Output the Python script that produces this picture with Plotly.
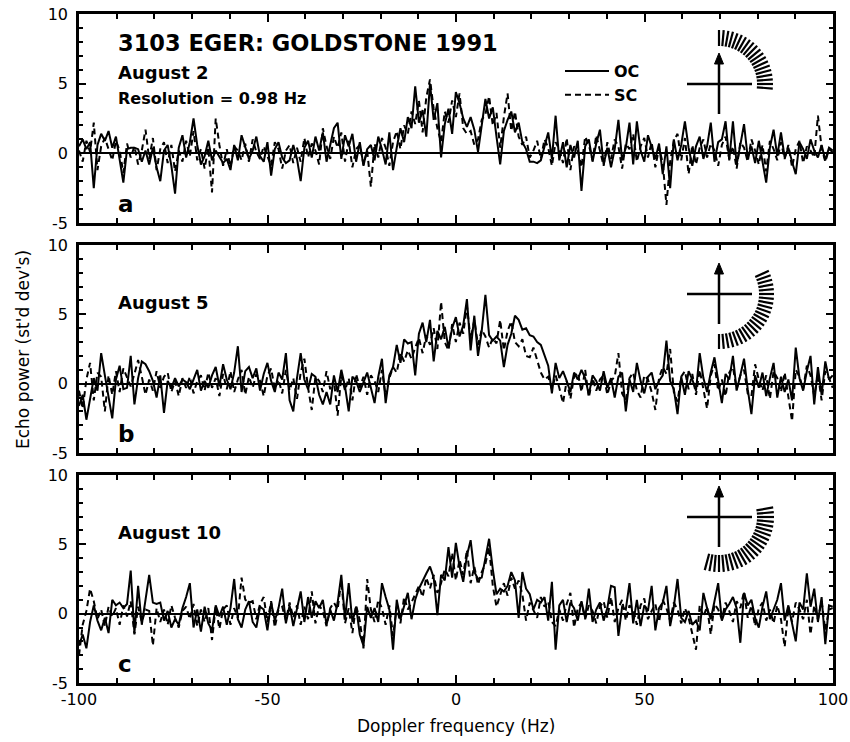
import math
import plotly.graph_objects as go

# ---------------- data ----------------
resolution_hz = 0.98
n_bins = 205
freq_hz = [round(-100 + resolution_hz * i, 2) for i in range(n_bins)]

aug2_oc = [
    0.5, 1.0, 0.3, 0.8, -2.5, 0.6, 1.4, 0.9, 1.6, 0.4,
    1.2, -0.4, -2.1, 0.3, 0.4, 0.4, 0.3, -0.6, 0.2, -0.8,
    0.4, -1.0, -2.0, 0.2, 0.6, -0.9, -2.9, 0.4, 1.3, -0.3,
    0.8, 2.5, 0.6, -0.8, -0.2, 0.9, -0.5, 0.2, -0.3, -0.7,
    -0.4, -1.2, 0.6, -0.5, 1.3, 0.4, -0.4, 0.2, 1.2, -0.2,
    -0.6, 0.8, -1.6, 0.3, 0.8, -0.3, -0.7, -0.5, 0.6, -0.4,
    -2.0, 0.4, 0.9, -0.3, 1.2, 0.2, 1.5, -0.6, 0.7, 1.8,
    2.2, -0.4, 1.3, 0.5, 1.4, -0.6, 0.8, -0.9, 0.3, 0.6,
    -0.5, 1.2, 0.3, -0.8, 1.5, -1.2, 0.4, 1.8, 0.8, 2.6,
    1.8, 4.8, 2.2, 3.1, 1.2, 5.0, 2.4, 3.6, -0.3, 2.1,
    3.2, 1.4, 4.4, 3.6, 2.5, 1.9, 2.6, 1.7, 0.1, 2.0,
    3.9, 2.5, 3.3, 1.2, -0.8, 1.6, 2.4, 3.0, 1.5, 2.2,
    0.8, 0.3, -0.6, -0.6, -0.7, -0.5, 0.5, 1.5, -0.4, 2.7,
    -0.5, 0.8, -1.0, 0.6, -0.3, 0.9, -2.7, 0.5, 1.0, -0.6,
    0.7, 1.7, -0.8, 0.4, -1.0, 0.3, 2.4, -0.5, 0.4, 2.2,
    -0.8, 2.3, 0.2, -0.6, 1.3, 0.4, -0.4, 0.7, -1.5, 0.5,
    -2.5, 1.0, -0.5, 0.6, 2.3, 0.4, -0.9, 0.5, 1.2, -0.4,
    0.5, 2.2, -0.6, 0.8, 1.0, 2.3, -0.5, 2.3, -0.8, 0.6,
    2.1, -0.3, 0.5, -0.7, 0.9, -0.6, -2.1, 0.4, 1.7, -0.2,
    1.5, -0.3, 0.4, -0.6, -1.5, 0.8, 0.3, -0.4, 1.0, 0.2,
    -0.3, 0.6, -0.5, 0.4, 0.2,
]
aug2_sc = [
    0.2, -0.6, 0.9, 0.1, 2.2, -1.2, 0.5, 1.1, 0.3, -0.5,
    0.9, 0.2, -1.4, 0.7, -0.3, 0.5, -0.8, 0.2, 1.7, -0.4,
    1.1, -1.2, 0.3, 0.8, -0.7, 0.6, -1.3, 0.2, -0.6, 0.9,
    -0.2, 1.6, -0.5, 0.3, -1.1, 0.4, -2.8, 2.5, 0.6, -0.9,
    0.3, -1.0, 0.5, 0.2, -0.5, 0.7, -0.6, 1.0, 0.1, -0.4,
    0.5, -0.2, -0.9, 0.8, 0.3, -1.1, 0.2, 0.6, -0.7, 0.4,
    -0.6, 1.1, -0.3, 0.7, 0.2, -0.8, 1.8, 0.5, -0.4, 1.2,
    0.4, 1.5, -0.6, 0.9, -1.0, 0.3, 0.6, -0.8, 0.2, -2.4,
    0.7, -0.3, 1.1, 0.4, -0.9, 0.8, 1.6, 0.3, 2.0, 1.4,
    3.0, 2.1, 3.8, 1.5, 4.0, 5.3, 3.2, 1.8, 0.8, 3.0,
    2.2, 3.8, 2.6, 4.3, 1.8, 1.4, 1.6, 0.6, 1.0, 2.4,
    2.8, 4.1, 2.0, 2.9, 0.4, 2.6, 4.3, 1.6, 3.0, 1.2,
    0.6, 1.2, -0.3, 0.2, 0.9, -0.4, 1.0, 0.4, -0.9, 0.8,
    0.3, -0.7, 1.1, -1.2, 0.5, 0.2, -1.0, 1.2, 0.6, -0.5,
    1.3, 0.2, -0.9, 0.8, -0.4, 1.0, 0.5, -1.1, 0.7, 0.3,
    1.4, -0.6, 0.5, 1.1, -0.3, 0.8, -1.0, 0.4, -0.7, -3.7,
    -0.6, 0.9, 1.4, -0.5, 1.1, -1.5, 0.6, -0.8, 0.4, 1.0,
    -0.3, 0.7, 0.2, -0.9, 0.6, 1.2, -0.4, 0.5, -1.1, 0.8,
    0.4, -0.6, 1.0, 0.2, -0.8, 0.6, -1.3, 0.9, 0.3, -0.5,
    0.8, -0.4, 0.6, -1.0, 0.3, 0.9, -0.7, 0.5, 0.2, -0.3,
    2.7, 0.4, -0.6, 0.3, 0.1,
]
aug5_oc = [
    -1.6, -0.8, -2.6, -1.2, 0.4, -0.5, 2.2, 0.6, -1.0, -2.5,
    0.3, 1.3, -0.4, -0.3, 2.0, -1.5, 0.4, 1.6, 1.4, 0.9,
    0.2, -1.0, 0.6, -2.1, 0.2, -0.3, 0.4, -0.2, 0.3, 0.1,
    -0.4, 0.3, 1.0, -0.5, 0.2, -0.3, 0.6, 1.2, -0.2, 1.4,
    0.3, -0.4, 0.8, 2.7, -0.6, 0.9, 1.2, 0.4, 1.1, -0.5,
    0.7, 1.5, 0.2, -0.6, 0.8, 0.3, 2.2, -1.2, -2.0, 0.4,
    2.2, 0.3, -0.4, 0.7, 0.5, -0.8, -1.5, -0.6, -1.5, 0.6,
    -0.6, 1.0, -0.2, -2.0, 0.5, 0.2, -0.6, 0.1, 0.8, -0.3,
    -1.4, 0.5, 1.8, -1.4, 0.6, 1.2, 2.8, 1.5, 3.2, 2.9,
    3.0, 0.6, 3.6, 4.4, 3.0, 4.6, 1.6, 3.8, 3.2, 4.1,
    2.6, 4.0, 4.8, 3.4, 4.2, 6.1, 2.4, 4.9, 2.0, 3.8,
    6.4, 3.5, 3.1, 3.4, 3.1, 1.2, 2.8, 3.6, 4.9, 4.6,
    3.9, 4.0, 3.5, 3.4, 3.0, 2.8, 2.0, 1.3, -0.7, 1.5,
    0.4, 0.9, 0.2, -0.6, 0.8, 0.3, 1.0, 0.4, -0.8, 0.6,
    0.2, -0.5, 0.9, -0.3, 0.4, -1.0, 0.5, 0.8, -2.0, 0.3,
    -0.6, 1.5, 0.2, -0.7, 0.5, 0.8, -0.4, 0.2, 0.6, 3.1,
    0.2, -0.4, -2.2, 0.5, -0.8, 0.9, 0.3, -0.5, 2.2, 0.4,
    -0.6, 0.8, 1.9, 0.2, -1.4, 0.7, 0.3, 2.0, -0.5, 0.6,
    1.8, -0.4, -2.2, 0.6, -0.3, 0.8, -0.9, 0.4, 1.5, -1.0,
    0.5, -0.6, 0.3, -1.2, 2.6, 0.4, -0.5, 0.9, 2.0, -1.5,
    1.2, -0.8, 1.6, 0.3, 0.6,
]
aug5_sc = [
    -0.5, -1.8, 0.3, 1.5, -1.2, 0.8, 0.5, -2.0, 0.6, -0.8,
    0.9, -0.6, 1.1, 0.4, -0.2, 0.7, 1.7, 0.5, -0.8, 0.3,
    -0.5, 0.9, -0.3, 0.5, 0.8, -0.6, 0.2, -0.9, 0.4, -0.3,
    0.5, -0.7, 0.2, 0.6, -0.5, 0.8, -0.3, 0.4, -0.9, 0.7,
    -0.4, 0.9, -0.6, 0.3, 1.0, -0.8, 0.5, -0.3, 0.7, 0.2,
    -0.9, 0.6, 1.1, -0.4, 0.3, -0.7, 1.0, -0.5, 0.4, -1.1,
    0.8, 1.8, -0.3, -1.9, 0.5, 0.2, -0.6, 0.9, -0.4, 0.3,
    -2.3, 0.6, -0.5, 0.4, -1.2, 0.7, -0.3, 0.5, -0.8, 0.6,
    0.2, -0.6, 1.0, -0.9, 0.4, 1.2, 0.8, 2.2, 1.6, 2.4,
    1.8, 2.6, 3.3, 2.2, 3.5, 2.8, 4.0, 2.5, 5.9, 3.0,
    2.4, 4.3, 3.0, 4.4, 3.6, 5.6, 3.2, 4.6, 2.8, 3.9,
    3.4, 2.6, 3.3, 2.9, 4.6, 2.4, 3.8, 4.5, 3.0, 2.7,
    3.2, 2.0, 1.9, 2.6, 1.6, 0.8, 0.3, 0.5, -0.4, 0.6,
    -0.3, -1.4, 0.2, -1.1, 0.5, 0.8, -0.6, 1.0, -1.0, 0.4,
    -0.5, 0.3, 0.6, -0.8, 0.2, 0.5, 2.2, -0.7, -1.2, 0.4,
    0.8, -0.5, -1.0, 0.6, 0.3, -0.6, -1.9, 0.4, 1.2, 0.7,
    2.5, -0.6, -1.3, 0.5, 0.9, -0.4, 0.7, -0.8, 1.0, -0.3,
    -1.8, 0.6, 1.4, -0.5, 0.3, -0.9, 0.8, 1.2, -0.4, 0.6,
    1.0, -0.7, -0.9, 1.4, 0.3, -0.5, 0.6, -1.1, 0.9, 0.4,
    -0.6, 0.8, -0.8, -2.7, 1.0, 0.5, -0.4, 1.3, 0.6, -0.9,
    0.7, -1.2, 0.9, 0.4, -0.3,
]
aug10_oc = [
    -2.3, -1.5, -2.5, -0.6, 0.6, -0.5, -1.2, -0.3, -1.4, 1.0,
    0.6, 0.8, 0.4, 0.7, 3.1, -1.4, 2.0, -0.8, 1.0, 2.8,
    0.8, 0.7, 0.8, -0.5, 0.2, -1.0, -0.4, -0.8, 0.4, 1.2,
    2.2, -1.0, 0.3, -1.3, 0.5, -0.7, -1.2, 0.6, -0.2, 0.5,
    -0.8, 0.4, 2.5, -0.4, -1.0, 0.3, 0.9, -0.6, -1.0, 0.5,
    0.3, -1.2, 0.8, -0.5, 0.4, 1.8, -0.7, 0.6, -0.9, 0.3,
    1.6, -0.6, 1.2, -0.3, 0.9, 0.4, 1.0, -0.8, 0.3, -0.5,
    0.8, 2.8, -0.4, 2.2, -0.6, 0.5, -1.5, -2.3, 0.5, -0.3,
    0.4, -0.6, 2.2, 1.2, 0.3, -2.6, 1.0, -0.4, 0.6, 1.5,
    -0.4, 1.0, 1.8, 2.4, 2.9, 3.4, 2.6, -0.1, 2.8, 2.4,
    4.8, 2.6, 5.1, 3.4, 2.3, 4.2, 5.3, 3.0, 2.5, 2.6,
    4.0, 5.4, 3.2, 1.4, 1.8, 1.6, 2.0, 3.0, 2.4, -0.3,
    3.0, 1.8, 1.4, 0.3, 1.0, 0.8, 1.2, -0.5, 2.3, -2.6,
    0.6, 1.0, -0.6, 0.8, 0.4, -0.5, 0.9, -0.3, 1.8, -0.6,
    0.3, 0.8, -0.5, 0.4, 2.0, 1.9, -1.6, 0.5, 0.3, 2.2,
    -0.7, 1.0, -0.9, 0.6, 0.2, 2.0, -1.2, 0.4, 0.8, 2.0,
    -0.9, 0.5, 2.5, -0.3, -0.6, 0.2, -0.8, -0.5, -1.2, 1.5,
    0.4, -0.4, 0.9, 2.2, -0.5, 0.3, 0.7, 1.2, 0.4, -2.1,
    1.5, 0.6, 1.0, -0.3, -1.0, 0.5, 1.6, -0.4, 0.3, 1.0,
    2.2, -0.5, 0.6, -0.8, -2.0, 0.8, 0.3, 2.9, 0.5, 1.8,
    -0.6, 1.2, -2.2, 0.6, 0.5,
]
aug10_sc = [
    -3.0, -0.8, 0.2, 1.8, 0.9, -0.4, 0.3, -0.9, 0.5, -0.2,
    0.4, -0.8, 0.6, -0.2, 0.9, -1.5, 0.5, -0.6, 0.3, 0.2,
    -2.3, 0.4, -0.6, 0.3, -0.8, 0.6, -0.3, -1.0, 0.2, 0.5,
    -0.4, 0.7, -0.9, 0.3, -0.6, 0.4, -1.9, 0.5, -1.1, 0.3,
    0.6, -0.8, 0.4, -0.3, 2.6, 1.0, 0.8, 0.9, -0.4, 0.7,
    1.2, -0.6, 0.9, -1.0, 0.3, 0.5, -0.5, 0.8, -0.3, 0.6,
    -0.8, 0.5, -0.4, 1.6, -0.7, 0.6, 0.2, -0.9, 0.4, 0.8,
    0.3, 2.4, -0.7, 0.4, -1.4, 0.6, -0.5, -2.5, 2.5, 0.3,
    -0.6, 1.0, 0.4, -0.8, 0.6, -1.6, 0.5, -0.7, 1.2, 0.3,
    0.8, 1.4, 2.0, 1.2, 2.6, 1.8, 2.8, 1.5, 2.2, 3.2,
    2.7, 4.4, 2.4, 3.9, 2.8, 4.6, 2.2, 3.4, 2.1, 3.0,
    3.6, 4.8, 2.0, 0.5, 1.4, 2.2, 1.3, 2.6, 1.8, 2.4,
    1.4, -0.5, 0.8, 0.2, -0.3, 1.2, 0.5, 0.9, -0.6, -0.9,
    0.3, -0.5, 0.7, 1.5, -1.0, 0.4, 0.8, -0.4, 0.6, 0.2,
    -0.7, 0.5, 0.9, -0.3, 1.2, -0.6, 0.4, 1.0, -0.5, 0.6,
    0.3, -0.8, 0.6, 1.1, -0.4, 0.2, 0.7, -0.6, 1.0, 0.4,
    -0.5, 0.8, 0.3, -0.7, 0.4, -0.3, -1.5, -2.6, 0.6, -0.2,
    0.5, -1.5, 0.7, 0.3, -0.4, 0.8, 0.2, -0.6, 0.9, 0.4,
    1.6, -0.3, 0.6, -0.9, 0.4, 0.8, -0.5, 0.3, -0.7, 0.6,
    -0.4, -2.4, 0.5, -0.6, 0.8, 0.3, -0.4, 1.0, -1.5, 0.6,
    -0.4, 0.9, -1.2, 0.3, 0.4,
]

panel_dates = ["August 2", "August 5", "August 10"]
panel_letters = ["a", "b", "c"]
x_tick_vals = [-100, -50, 0, 50, 100]
x_tick_text = ["-100", "-50", "0", "50", "100"]
y_tick_vals = [-5, 0, 5, 10]
y_tick_text = ["-5", "0", "5", "10"]

for arr in (aug2_oc, aug2_sc, aug5_oc, aug5_sc, aug10_oc, aug10_sc):
    assert len(arr) == n_bins, len(arr)

# ---------------- layout geometry ----------------
W, H = 850, 742
ML, MR, MT, MB = 79, 17, 14, 59
PW = W - ML - MR
PH = H - MT - MB
BOTTOM_PX = H - MB


def fx(px):
    return (px - ML) / PW


def fy(py):
    return (BOTTOM_PX - py) / PH


panel_px = [(14, 223), (245, 453), (475, 683)]
domains = [[fy(b), fy(t)] for (t, b) in panel_px]

FONT = "DejaVu Sans"
fig = go.Figure()

series = [(aug2_oc, aug2_sc), (aug5_oc, aug5_sc), (aug10_oc, aug10_sc)]
for k, (oc, sc) in enumerate(series):
    xa = "x" if k == 0 else f"x{k+1}"
    ya = "y" if k == 0 else f"y{k+1}"
    fig.add_trace(go.Scatter(
        x=freq_hz, y=sc, mode="lines", name="<b>SC</b>", xaxis=xa, yaxis=ya,
        line=dict(color="black", width=2.0, dash="6px,4px"),
        showlegend=(k == 0), legendrank=2, hoverinfo="skip"))
    fig.add_trace(go.Scatter(
        x=freq_hz, y=oc, mode="lines", name="<b>OC</b>", xaxis=xa, yaxis=ya,
        line=dict(color="black", width=2.0),
        showlegend=(k == 0), legendrank=1, hoverinfo="skip"))

layout = dict(
    width=W, height=H, autosize=False,
    margin=dict(l=ML, r=MR, t=MT, b=MB, autoexpand=False),
    paper_bgcolor="white", plot_bgcolor="white",
    font=dict(family=FONT, size=16, color="black"),
    legend=dict(x=fx(560), y=fy(54), xanchor="left", yanchor="top",
                bgcolor="rgba(0,0,0,0)", font=dict(family=FONT, size=16, color="black"),
                tracegroupgap=0, itemwidth=44),
)
for k in range(3):
    xs = "xaxis" if k == 0 else f"xaxis{k+1}"
    ys = "yaxis" if k == 0 else f"yaxis{k+1}"
    ya = "y" if k == 0 else f"y{k+1}"
    xa = "x" if k == 0 else f"x{k+1}"
    layout[xs] = dict(
        domain=[0, 1], anchor=ya, range=[-100, 100], automargin=False,
        tickmode="array", tickvals=x_tick_vals, ticktext=x_tick_text,
        showticklabels=(k == 2),
        ticks="inside", ticklen=8, tickwidth=1.5, tickcolor="black",
        minor=dict(dtick=10, tick0=0, ticks="inside", ticklen=5, tickwidth=1.5, tickcolor="black"),
        showline=True, linewidth=2.5, linecolor="black", mirror="ticks",
        showgrid=False, zeroline=False, fixedrange=True,
        tickfont=dict(family=FONT, size=16, color="black"),
    )
    layout[ys] = dict(
        domain=domains[k], anchor=xa, range=[-5, 10], automargin=False,
        tickmode="array", tickvals=y_tick_vals, ticktext=y_tick_text,
        ticks="inside", ticklen=7, tickwidth=1.5, tickcolor="black",
        ticklabelstandoff=5,
        minor=dict(dtick=1, tick0=0, ticks="inside", ticklen=4, tickwidth=1.5, tickcolor="black"),
        showline=True, linewidth=2.5, linecolor="black", mirror="ticks",
        showgrid=False, zeroline=True, zerolinecolor="black", zerolinewidth=2,
        fixedrange=True, tickfont=dict(family=FONT, size=16, color="black"),
    )
fig.update_layout(**layout)

# ---------------- text ----------------
ann = []


def add_text(txt, px, py, size, bold=True, xanchor="left", angle=0):
    ann.append(dict(
        text=(f"<b>{txt}</b>" if bold else txt), x=fx(px), y=fy(py),
        xref="paper", yref="paper", xanchor=xanchor, yanchor="middle",
        showarrow=False, textangle=angle, borderpad=0,
        font=dict(family=FONT, size=size, color="black")))


add_text("3103 EGER: GOLDSTONE 1991", 117, 43, 22.5)
add_text(panel_dates[0], 117, 72, 18)
add_text("Resolution = 0.98 Hz", 117, 98, 16)
add_text(panel_dates[1], 117, 302, 18)
add_text(panel_dates[2], 117, 532, 18)
for letter, ypx in zip(panel_letters, [204, 434, 664]):
    add_text(letter, 117, ypx, 23)
add_text("Doppler frequency (Hz)", 456, 726, 17, bold=False, xanchor="center")
add_text("Echo power (st'd dev's)", 23, 350, 17, bold=False, xanchor="center", angle=-90)
fig.update_layout(annotations=ann)

# ---------------- polarization icons ----------------
shapes = []


def seg(x0, y0, x1, y1, w):
    shapes.append(dict(type="line", xref="paper", yref="paper",
                       x0=fx(x0), y0=fy(y0), x1=fx(x1), y1=fy(y1),
                       line=dict(color="black", width=w)))


def icon(cx, cy, a_start, a_end, r1, r2):
    seg(cx - 32, cy, cx + 33, cy, 2.5)
    seg(cx, cy + 30, cx, cy - 24, 2.5)
    tip = cy - 31
    path = (f"M {fx(cx)},{fy(tip)} L {fx(cx - 4.5)},{fy(tip + 11)} "
            f"L {fx(cx + 4.5)},{fy(tip + 11)} Z")
    shapes.append(dict(type="path", xref="paper", yref="paper", path=path,
                       fillcolor="black", line=dict(color="black", width=1)))
    n = int(round(abs(a_end - a_start) / 5.0)) + 1
    for j in range(n):
        a = math.radians(a_start + (a_end - a_start) * j / (n - 1))
        seg(cx + r1 * math.cos(a), cy - r1 * math.sin(a),
            cx + r2 * math.cos(a), cy - r2 * math.sin(a), 2.2)


icon(719, 84, 90, -5, 38, 54)
icon(719, 294, 25, -90, 40, 55)
icon(719, 517, 10, -105, 38, 55)
fig.update_layout(shapes=shapes)

fig.write_html("out.html", config={"displayModeBar": False},
               post_script="document.body.style.margin='0px';")
